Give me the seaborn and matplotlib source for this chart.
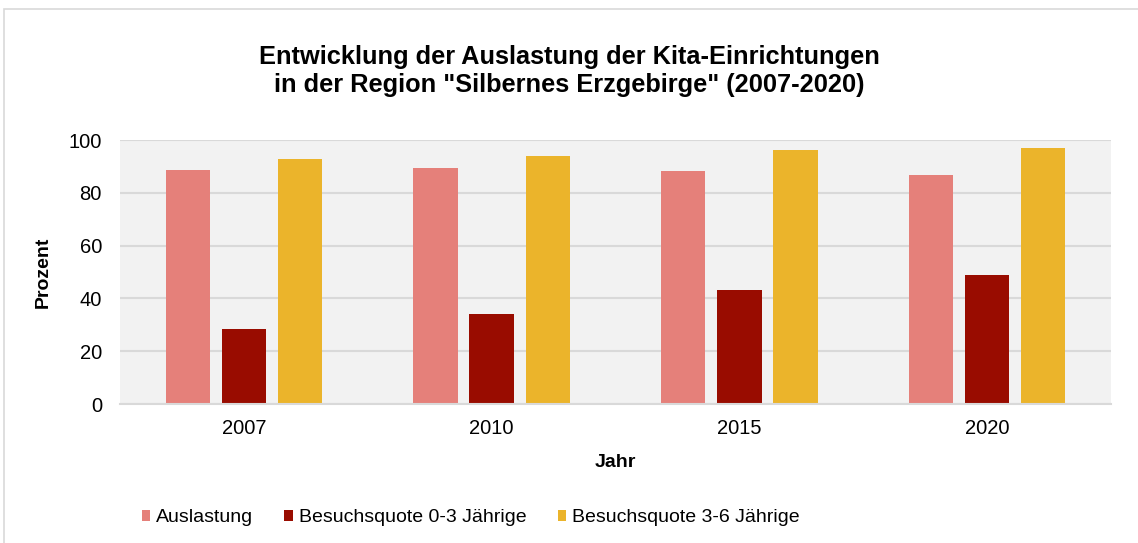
import pandas as pd
import matplotlib.pyplot as plt
import seaborn as sns
from matplotlib.patches import Rectangle

# Chart data
jahre = ["2007", "2010", "2015", "2020"]
auslastung = [88.6, 89.5, 88.3, 86.7]
quote_0_3 = [28.3, 34.2, 43.1, 48.9]
quote_3_6 = [92.9, 93.8, 96.1, 96.8]
serien = ["Auslastung", "Besuchsquote 0-3 Jährige", "Besuchsquote 3-6 Jährige"]
farben = ["#E5807A", "#990C00", "#EBB42B"]

df = pd.DataFrame({
    "Jahr": jahre * 3,
    "Prozent": auslastung + quote_0_3 + quote_3_6,
    "Serie": [serien[0]] * 4 + [serien[1]] * 4 + [serien[2]] * 4,
})

sns.set_theme(style="white")
plt.rcParams["font.family"] = ["Liberation Sans", "DejaVu Sans"]
plt.rcParams["text.color"] = "black"

fig = plt.figure(figsize=(11.38, 5.43), dpi=100)
fig.patches.append(Rectangle((4 / 1138, -0.1), 1.2, (543 - 9) / 543 + 0.1,
                             transform=fig.transFigure, fill=False,
                             edgecolor="#d9d9d9", linewidth=1.2))
ax = fig.add_axes([120 / 1138, 1 - 404 / 543, (1111 - 120) / 1138, (404 - 140) / 543])
ax.set_facecolor("#f2f2f2")

sns.barplot(data=df, x="Jahr", y="Prozent", hue="Serie", palette=farben,
            saturation=1, linewidth=0, width=0.68, gap=0.21, ax=ax, legend=True)

ax.set_ylim(0, 100)
ax.set_yticks(range(0, 101, 20))
ax.yaxis.grid(True, color="#d9d9d9", linewidth=1.5)
ax.set_axisbelow(True)
for s in ["top", "right", "left"]:
    ax.spines[s].set_visible(False)
ax.spines["bottom"].set_color("#d9d9d9")
ax.spines["bottom"].set_linewidth(1.5)
ax.tick_params(axis="both", length=0, labelsize=14.5, colors="black")
ax.tick_params(axis="x", pad=11)
ax.tick_params(axis="y", pad=13)

ax.set_xlabel("Jahr", fontsize=14, fontweight="bold", labelpad=11, color="black")
ax.set_ylabel("Prozent", fontsize=14, fontweight="bold", labelpad=12, color="black")

fig.text(0.5, 1 - 71 / 543,
         "Entwicklung der Auslastung der Kita-Einrichtungen\nin der Region \"Silbernes Erzgebirge\" (2007-2020)",
         ha="center", va="center", fontsize=18.3, fontweight="bold", linespacing=1.17)

handles, labels = ax.get_legend_handles_labels()
ax.legend(handles, labels, loc="center left", bbox_to_anchor=(124 / 1138, 1 - 518 / 543),
          bbox_transform=fig.transFigure, ncol=3, frameon=False, fontsize=14,
          handlelength=0.45, handleheight=0.45, handletextpad=0.3, columnspacing=1.6)

fig.savefig("out.png", dpi=100)
